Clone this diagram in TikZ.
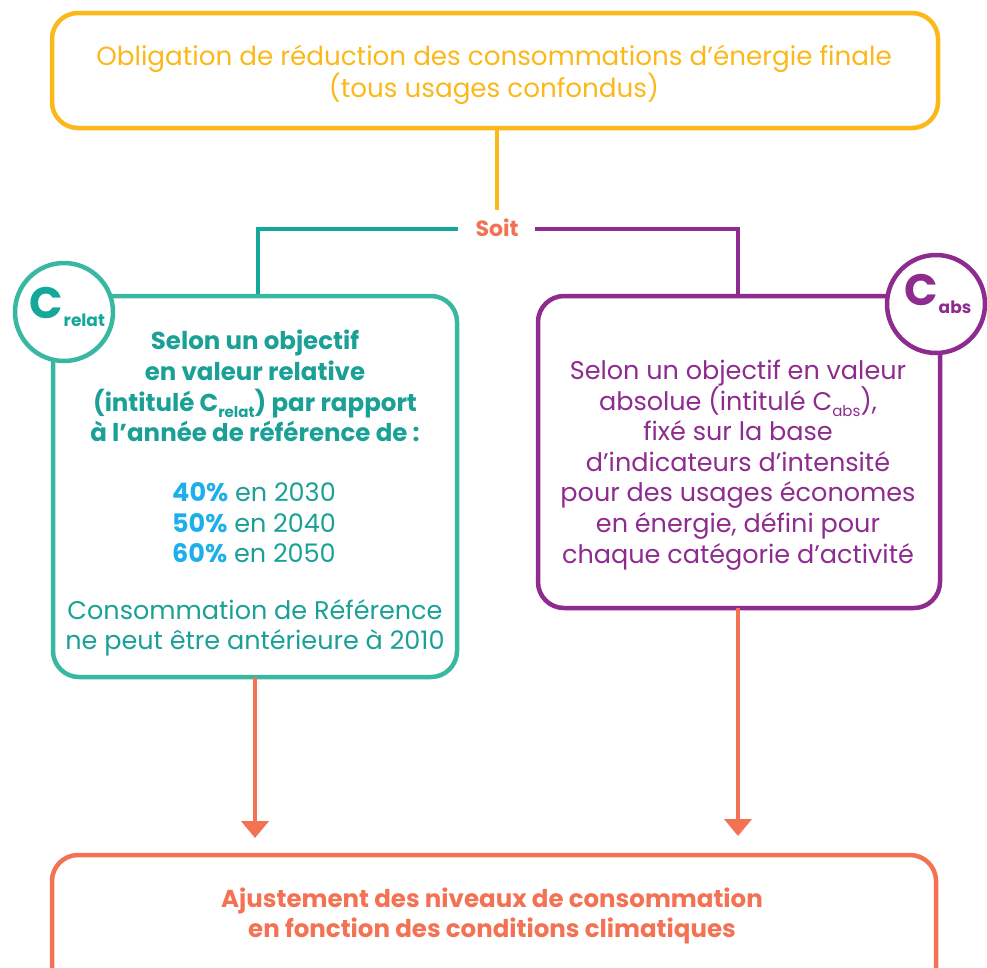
\documentclass[tikz,border=0pt]{standalone}
\usepackage{fontspec}
\setmainfont{Poppins}
\usetikzlibrary{arrows.meta}
\definecolor{oryellow}{HTML}{FBB81A}
\definecolor{tealline}{HTML}{14A89A}
\definecolor{tealbox}{HTML}{38B8A0}
\definecolor{tealtext}{HTML}{1AA096}
\definecolor{purp}{HTML}{8E2B8F}
\definecolor{coral}{HTML}{F37254}
\definecolor{pctblue}{HTML}{1DAEEC}
\newcommand{\sub}[1]{\raisebox{-0.25em}{\fontsize{15}{15}\selectfont #1}}
\newcommand{\badgetext}[1]{C\hspace{1pt}\raisebox{-8pt}{\fontsize{17}{17}\selectfont #1}}
\tikzset{
  x=1pt, y=-1pt,
  frame/.style={draw, line width=4.5pt, rounded corners=26pt},
  link/.style={line width=4.5pt},
  txt/.style={align=center, font=\fontsize{25.5}{30.6}\selectfont},
  btxt/.style={align=center, font=\bfseries\fontsize{24.5}{30.6}\selectfont},
  badge/.style={circle, draw, fill=white, line width=4.5pt, minimum size=98pt, inner sep=0pt},
  badgelabel/.style={font=\bfseries\fontsize{44}{44}\selectfont, inner sep=0pt, anchor=base west},
}
\begin{document}
\begin{tikzpicture}
\useasboundingbox (0,0) rectangle (987,967);
\clip (0,0) rectangle (987,967);

% top box
\draw[frame, oryellow] (52,13) rectangle (938,128);
\node[txt, text=oryellow, font=\fontsize{26.2}{31}\selectfont] (top) at (494,75) {Obligation de réduction des consommations d’énergie finale\\(tous usages confondus)};
\coordinate (topbot) at (497,128);
\coordinate (soitup) at (497,210);
\draw[link, oryellow] (topbot) -- (soitup);

\node[font=\bfseries\fontsize{22}{22}\selectfont, text=coral] (soit) at (497,228) {Soit};

% branches
\coordinate (lt) at (458,229);
\coordinate (lc) at (258,229);
\coordinate (lb) at (258,296);
\coordinate (rt) at (535,229);
\coordinate (rc) at (738,229);
\coordinate (rb) at (738,296);
\draw[link, tealline] (lt) -- (lc) -- (lb);
\draw[link, purp] (rt) -- (rc) -- (rb);

% left box
\draw[frame, tealbox] (53,296) rectangle (457,677);
\node[btxt, text=tealtext] (lhead) at (255,386)
  {Selon un objectif\\en valeur relative\\(intitulé C\sub{relat}) par rapport\\à l’année de référence de :};
\node[txt, text=tealtext] (lpct) at (254,523)
  {\textcolor{pctblue}{\bfseries 40\%} en 2030\\\textcolor{pctblue}{\bfseries 50\%} en 2040\\\textcolor{pctblue}{\bfseries 60\%} en 2050};
\node[txt, text=tealtext] (lref) at (255,628)
  {Consommation de Référence\\ne peut être antérieure à 2010};

% right box
\draw[frame, purp] (538,296) rectangle (940,608);
\node[txt, text=purp] (rtext) at (738,465)
  {Selon un objectif en valeur\\absolue (intitulé C\sub{abs}),\\fixé sur la base\\d’indicateurs d’intensité\\pour des usages économes\\en énergie, défini pour\\chaque catégorie d’activité};

% badges
\node[badge, draw=tealbox] (crelat) at (64,312) {};
\node[badgelabel, text=tealline] (cL) at (29,318) {\badgetext{relat}};
\node[badge, draw=purp] (cabs) at (936,304) {};
\node[badgelabel, text=purp] (cR) at (904,305) {\badgetext{abs}};

% arrows to bottom box
\coordinate (la) at (255,677);
\coordinate (lae) at (255,838);
\coordinate (ra) at (738,608);
\coordinate (rae) at (738,836);
\draw[link, coral, -{Triangle[length=17pt,width=27pt]}] (la) -- (lae);
\draw[link, coral, -{Triangle[length=17pt,width=27pt]}] (ra) -- (rae);

% bottom box
\draw[frame, coral] (52,855) rectangle (936,1010);
\node[btxt, text=coral] (bot) at (492,916)
  {Ajustement des niveaux de consommation\\en fonction des conditions climatiques};
\end{tikzpicture}
\end{document}
